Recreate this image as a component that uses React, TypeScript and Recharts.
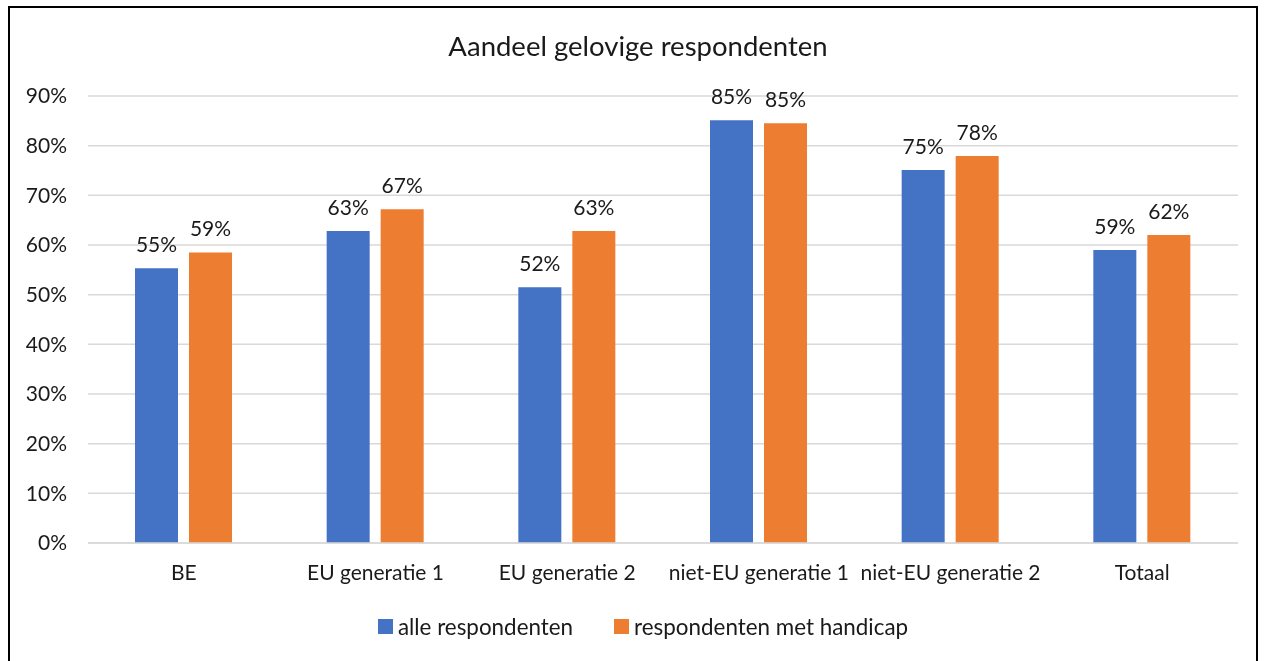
import React from "react";
import {
  BarChart,
  Bar,
  XAxis,
  YAxis,
  CartesianGrid,
  Legend,
  LabelList,
} from "recharts";

const categories = [
  "BE",
  "EU generatie 1",
  "EU generatie 2",
  "niet-EU generatie 1",
  "niet-EU generatie 2",
  "Totaal",
];
const alleRespondenten = [0.553, 0.628, 0.515, 0.851, 0.751, 0.59];
const metHandicap = [0.585, 0.672, 0.628, 0.845, 0.779, 0.62];
const yTicks = [0, 0.1, 0.2, 0.3, 0.4, 0.5, 0.6, 0.7, 0.8, 0.9];

const seriesNames = {
  alle: "alle respondenten",
  handicap: "respondenten met handicap",
};

const chartData = categories.map((c, i) => ({
  name: c,
  alle: alleRespondenten[i],
  handicap: metHandicap[i],
}));

const FONT = "Lato, 'Open Sans', sans-serif";
const TEXT = "#1a1a1a";
const FS = 21;

const pct = (v: unknown) => `${Math.round(Number(v) * 100)}%`;

function LegendContent({ payload }: any) {
  return (
    <div
      style={{
        display: "flex",
        justifyContent: "center",
        gap: 41,
        fontFamily: FONT,
        fontSize: 22.4,
        color: TEXT,
      }}
    >
      {(payload || []).map((p: any) => (
        <div key={p.value} style={{ display: "flex", alignItems: "center" }}>
          <span
            style={{
              display: "inline-block",
              width: 15,
              height: 15,
              background: p.color,
              marginRight: 5,
            }}
          />
          {p.value}
        </div>
      ))}
    </div>
  );
}

export default function App() {
  return (
    <div style={{ position: "fixed", left: 0, top: 0, width: 1266, height: 661 }}>
      <div
        style={{
          position: "absolute",
          left: 8,
          top: 6,
          width: 1250,
          height: 660,
          border: "2px solid #000",
          boxSizing: "border-box",
        }}
      />
      <div
        style={{
          position: "absolute",
          left: 0,
          top: 29,
          width: 1276,
          textAlign: "center",
          fontFamily: FONT,
          fontSize: 27.5,
          color: TEXT,
        }}
      >
        Aandeel gelovige respondenten
      </div>
      <div style={{ position: "absolute", left: 0, top: 0 }}>
        <BarChart
          width={1266}
          height={661}
          data={chartData}
          margin={{ top: 96, right: 28, bottom: 68, left: 10 }}
          barSize={43}
          barGap={11}
        >
          <CartesianGrid vertical={false} stroke="#d9d9d9" strokeWidth={1.5} />
          <XAxis
            dataKey="name"
            height={50}
            axisLine={{ stroke: "#d9d9d9", strokeWidth: 1.5 }}
            tickLine={false}
            tickSize={0}
            tickMargin={22}
            interval={0}
            tick={{ fontFamily: FONT, fontSize: FS, fill: TEXT }}
          />
          <YAxis
            width={78}
            domain={[0, 0.9]}
            ticks={yTicks}
            tickFormatter={pct}
            axisLine={false}
            tickLine={false}
            tickSize={0}
            tickMargin={21}
            tick={{ fontFamily: FONT, fontSize: FS, fill: TEXT }}
          />
          <Legend
            verticalAlign="middle"
            align="center"
            wrapperStyle={{ top: 613, left: 0, width: 1286 }}
            content={<LegendContent />}
          />
          <Bar
            dataKey="alle"
            name={seriesNames.alle}
            fill="#4472C4"
            isAnimationActive={false}
          >
            <LabelList
              dataKey="alle"
              position="top"
              offset={16}
              formatter={pct}
              style={{ fontFamily: FONT, fontSize: FS, fill: TEXT }}
            />
          </Bar>
          <Bar
            dataKey="handicap"
            name={seriesNames.handicap}
            fill="#ED7D31"
            isAnimationActive={false}
          >
            <LabelList
              dataKey="handicap"
              position="top"
              offset={16}
              formatter={pct}
              style={{ fontFamily: FONT, fontSize: FS, fill: TEXT }}
            />
          </Bar>
        </BarChart>
      </div>
    </div>
  );
}
